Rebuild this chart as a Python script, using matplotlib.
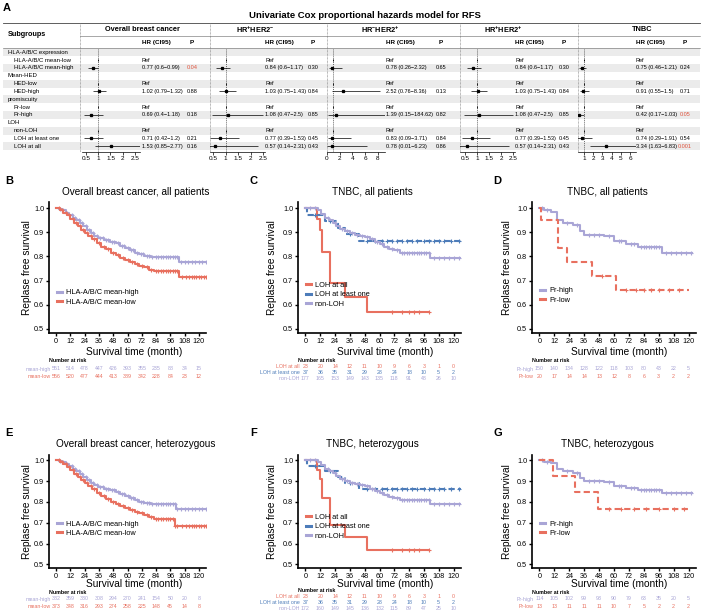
import matplotlib
matplotlib.use("Agg")
import matplotlib.pyplot as plt
import numpy as np
from matplotlib.lines import Line2D
from matplotlib.patches import Rectangle
from matplotlib.transforms import blended_transform_factory

plt.rcParams['font.family'] = ['Liberation Sans', 'DejaVu Sans']
plt.rcParams['mathtext.fontset'] = 'custom'
plt.rcParams['mathtext.rm'] = 'Liberation Sans'
plt.rcParams['mathtext.it'] = 'Liberation Sans:italic'
plt.rcParams['mathtext.bf'] = 'Liberation Sans:bold'

W, H = 701, 611
PURPLE = "#a9a5d6"
RED = "#e8705f"
BLUE = "#4d7cb9"
PRED = "#e0523c"

# ---------------- panel A: forest table data ----------------
SUBGROUPS = ["HLA-A/B/C expression", "HLA-A/B/C mean-low", "HLA-A/B/C mean-high",
             "Mean-HED", "HED-low", "HED-high",
             "promiscuity", "Pr-low", "Pr-high",
             "LOH", "non-LOH", "LOH at least one", "LOH at all"]
HEADER_ROWS = [0, 3, 6, 9]
REF_ROWS = [1, 4, 7, 10]
EST_ROWS = [2, 5, 8, 11, 12]

COHORTS = ["Overall breast cancer",
           r"HR$^{\mathbf{+}}$HER2$^{\mathbf{-}}$",
           r"HR$^{\mathbf{-}}$HER2$^{\mathbf{+}}$",
           r"HR$^{\mathbf{+}}$HER2$^{\mathbf{+}}$",
           "TNBC"]

HR_OVERALL = [0.77, 1.02, 0.69, 0.71, 1.53]
LO_OVERALL = [0.6, 0.79, 0.4, 0.42, 0.85]
HI_OVERALL = [0.99, 1.32, 1.18, 1.2, 2.77]
P_OVERALL = ["0.04", "0.88", "0.18", "0.21", "0.16"]

HR_HRP_HER2N = [0.84, 1.03, 1.08, 0.77, 0.57]
LO_HRP_HER2N = [0.6, 0.75, 0.47, 0.39, 0.14]
HI_HRP_HER2N = [1.17, 1.43, 2.5, 1.53, 2.31]
P_HRP_HER2N = ["0.30", "0.84", "0.85", "0.45", "0.43"]

HR_HRN_HER2P = [0.78, 2.52, 1.39, 0.83, 0.78]
LO_HRN_HER2P = [0.26, 0.76, 0.15, 0.09, 0.01]
HI_HRN_HER2P = [2.32, 8.36, 184.62, 3.71, 6.23]
P_HRN_HER2P = ["0.65", "0.13", "0.82", "0.84", "0.86"]

HR_HRP_HER2P = [0.84, 1.03, 1.08, 0.77, 0.57]
LO_HRP_HER2P = [0.6, 0.75, 0.47, 0.39, 0.14]
HI_HRP_HER2P = [1.17, 1.43, 2.5, 1.53, 2.31]
P_HRP_HER2P = ["0.30", "0.84", "0.85", "0.45", "0.43"]

HR_TNBC = [0.75, 0.91, 0.42, 0.74, 3.34]
LO_TNBC = [0.46, 0.55, 0.17, 0.29, 1.63]
HI_TNBC = [1.21, 1.5, 1.03, 1.91, 6.83]
P_TNBC = ["0.24", "0.71", "0.05", "0.54", "0.001"]

FOREST = [
    (HR_OVERALL, LO_OVERALL, HI_OVERALL, P_OVERALL),
    (HR_HRP_HER2N, LO_HRP_HER2N, HI_HRP_HER2N, P_HRP_HER2N),
    (HR_HRN_HER2P, LO_HRN_HER2P, HI_HRN_HER2P, P_HRN_HER2P),
    (HR_HRP_HER2P, LO_HRP_HER2P, HI_HRP_HER2P, P_HRP_HER2P),
    (HR_TNBC, LO_TNBC, HI_TNBC, P_TNBC),
]
REF_HR = 1.0

# layout of the forest columns (pixels)
FOREST_LAYOUT = [
    dict(left=82, right=140, xlim=(0.337, 2.704), ticks=[0.5, 1, 1.5, 2, 2.5], hr_x=141.5, p_x=192, center=142),
    dict(left=210, right=265, xlim=(0.38, 2.58), ticks=[0.5, 1, 1.5, 2, 2.5], hr_x=265, p_x=313, center=255),
    dict(left=327, right=385, xlim=(0.0, 9.1), ticks=[0, 2, 4, 6, 8], hr_x=386, p_x=441, center=380),
    dict(left=460, right=515, xlim=(0.29, 2.58), ticks=[0.5, 1, 1.5, 2, 2.5], hr_x=515, p_x=564, center=503),
    dict(left=578, right=636, xlim=(0.35, 6.65), ticks=[1, 2, 3, 4, 5, 6], hr_x=635.5, p_x=685, center=642),
]
SEP_X = [80, 210, 327, 460, 578]

# ---------------- KM data (time in months, survival) ----------------
TICK_MONTHS = [0, 12, 24, 36, 48, 60, 72, 84, 96, 108, 120]

# B: overall, all patients
B_HIGH_T = [0, 2, 5, 8, 11, 14, 17, 20, 23, 26, 29, 32, 35, 40, 45, 50, 54, 58, 62, 66, 70, 74, 80, 103]
B_HIGH_S = [1.0, .995, .99, .98, .97, .96, .95, .94, .925, .91, .895, .885, .875, .868, .86, .855,
            .845, .835, .825, .815, .808, .80, .798, .776]
B_HIGH_C = [3, 6, 9, 13, 16, 19, 22, 25, 28, 31, 34, 37, 39, 42, 44, 47, 49, 52, 55, 57, 60, 63, 65, 68,
            71, 73, 76, 78, 81, 84, 86, 88, 90, 92, 94, 96, 98, 100, 102, 105, 108, 111, 114, 117, 120, 123, 126]
B_LOW_T = [0, 3, 6, 9, 12, 15, 18, 21, 24, 27, 30, 34, 38, 42, 46, 50, 54, 58, 62, 66, 70, 74, 78, 82, 103]
B_LOW_S = [1.0, .99, .98, .97, .955, .94, .925, .91, .895, .885, .87, .855, .84, .83, .815, .805,
           .795, .785, .778, .77, .762, .755, .745, .738, .715]
B_LOW_C = [2, 5, 8, 11, 14, 17, 20, 23, 26, 29, 32, 36, 40, 44, 48, 52, 56, 60, 64, 68, 72, 76, 80,
           84, 86, 88, 90, 92, 94, 96, 98, 100, 102, 106, 109, 112, 114, 116, 118, 120, 122, 124, 126]

# C: TNBC, all patients
C_ALL_T = [0, 9.5, 11.5, 13.5, 20, 32, 50]
C_ALL_S = [1.0, .955, .91, .82, .69, .63, .57]
C_ALL_C = [70, 78, 84, 88, 92, 100]
C_ONE_T = [0, 1, 16, 26, 32, 43]
C_ONE_S = [1.0, .973, .946, .919, .892, .864]
C_ONE_C = [8, 20, 36, 50, 56, 62, 66, 70, 74, 78, 82, 86, 90, 96, 100, 104, 108, 112, 118, 124]
C_NON_T = [0, 10, 13, 16, 19, 22, 25, 28, 32, 36, 40, 44, 48, 52, 56, 60, 64, 68, 72, 77, 101]
C_NON_S = [1.0, .99, .975, .96, .95, .94, .925, .915, .905, .895, .89, .885, .88, .87, .86, .85,
           .84, .83, .825, .815, .795]
C_NON_C = [4, 8, 18, 24, 30, 34, 38, 42, 46, 50, 54, 58, 62, 66, 70, 74, 78, 80, 82, 84, 86, 88, 90,
           92, 94, 96, 98, 100, 104, 108, 112, 116, 120, 124]

# D: TNBC, all patients (promiscuity)
D_HIGH_T = [0, 4, 9, 14, 19, 27, 33, 36, 52, 60, 70, 79, 99]
D_HIGH_S = [1.0, .993, .985, .95, .94, .93, .905, .89, .885, .862, .85, .84, .815]
D_HIGH_C = [2, 6, 22, 30, 40, 44, 48, 56, 64, 66, 74, 76, 82, 84, 86, 88, 90, 92, 94, 96, 102, 106,
            110, 114, 118, 122]
D_LOW_T = [0, 1, 15, 22, 42, 62]
D_LOW_S = [1.0, .95, .835, .776, .72, .66]
D_LOW_C = [50, 70, 78, 84, 90, 96, 104, 112]

# E: overall, heterozygous
E_HIGH_T = [0, 2, 5, 8, 11, 14, 17, 20, 23, 26, 29, 32, 35, 40, 45, 50, 54, 58, 62, 66, 70, 74, 80, 101]
E_HIGH_S = [1.0, .995, .99, .98, .97, .96, .948, .935, .92, .905, .89, .88, .87, .862, .855, .848,
            .84, .83, .82, .81, .80, .795, .79, .765]
E_HIGH_C = B_HIGH_C
E_LOW_T = [0, 3, 6, 9, 12, 15, 18, 21, 24, 27, 30, 34, 38, 42, 46, 50, 54, 58, 62, 66, 70, 74, 78, 82, 100]
E_LOW_S = [1.0, .99, .98, .968, .952, .935, .92, .905, .89, .875, .86, .845, .83, .815, .80, .79,
           .78, .77, .76, .752, .745, .737, .728, .72, .685]
E_LOW_C = B_LOW_C

# F: TNBC, heterozygous
F_ALL_T = C_ALL_T
F_ALL_S = C_ALL_S
F_ALL_C = C_ALL_C
F_ONE_T = C_ONE_T
F_ONE_S = C_ONE_S
F_ONE_C = C_ONE_C
F_NON_T = [0, 10, 13, 16, 19, 22, 25, 28, 32, 36, 40, 44, 48, 52, 56, 60, 64, 68, 72, 77, 101]
F_NON_S = [1.0, .99, .975, .96, .948, .937, .922, .912, .902, .892, .886, .88, .874, .864, .854, .844,
           .834, .824, .818, .81, .79]
F_NON_C = C_NON_C

# G: TNBC, heterozygous (promiscuity)
G_HIGH_T = [0, 4, 9, 14, 19, 27, 33, 36, 52, 60, 70, 79, 99]
G_HIGH_S = [1.0, .993, .985, .96, .95, .94, .915, .9, .895, .875, .865, .855, .845]
G_HIGH_C = D_HIGH_C
G_LOW_T = [0, 11, 29, 47]
G_LOW_S = [1.0, .923, .846, .765]
G_LOW_C = [56, 66, 76, 86, 96, 108, 116]

# number at risk
B_RISK_LABELS = ["mean-high", "mean-low"]
B_RISK = [[551, 514, 478, 447, 426, 393, 355, 235, 88, 34, 15],
          [556, 520, 477, 444, 413, 389, 342, 228, 84, 23, 12]]
C_RISK_LABELS = ["LOH at all", "LOH at least one", "non-LOH"]
C_RISK = [[23, 20, 14, 12, 11, 10, 9, 6, 3, 1, 0],
          [37, 36, 35, 31, 29, 28, 24, 18, 10, 5, 2],
          [177, 165, 153, 149, 143, 135, 118, 91, 48, 26, 10]]
D_RISK_LABELS = ["Pr-high", "Pr-low"]
D_RISK = [[150, 140, 134, 128, 122, 118, 103, 80, 43, 22, 5],
          [20, 17, 14, 14, 13, 12, 8, 6, 3, 2, 2]]
E_RISK = [[382, 359, 330, 308, 294, 270, 241, 154, 50, 20, 8],
          [373, 348, 316, 293, 274, 258, 225, 148, 45, 14, 8]]
F_RISK = [[23, 20, 14, 12, 11, 10, 9, 6, 3, 1, 0],
          [37, 36, 35, 31, 29, 28, 24, 18, 10, 5, 2],
          [172, 160, 149, 145, 136, 132, 115, 89, 47, 25, 10]]
G_RISK = [[114, 105, 102, 99, 93, 90, 79, 63, 35, 20, 5],
          [13, 13, 11, 11, 11, 10, 7, 5, 2, 2, 2]]


def px_rect(left, top, right, bottom):
    return [left / W, 1 - bottom / H, (right - left) / W, (bottom - top) / H]


fig = plt.figure(figsize=(W / 100, H / 100), dpi=100)
tab = fig.add_axes([0, 0, 1, 1])
tab.set_xlim(0, W)
tab.set_ylim(H, 0)
tab.axis("off")

# ---------------- panel A ----------------
tab.text(3, 8, "A", fontsize=8, fontweight="bold", va="center")
tab.text(365, 15, "Univariate Cox proportional hazards model for RFS",
         fontsize=6.8, fontweight="bold", ha="center", va="center")

ROW_Y0, ROW_DY = 52.3, 7.83
for i, lab in enumerate(SUBGROUPS):
    y = ROW_Y0 + ROW_DY * i
    if i % 2 == 0:
        tab.add_patch(Rectangle((3, y - ROW_DY / 2), 697, ROW_DY, color="#ebebeb", lw=0, zorder=0))
    x = 8 if i in HEADER_ROWS else 14
    tab.text(x, y, lab, fontsize=4.3, va="center")

tab.plot([3, 700], [23, 23], color="#444444", lw=0.6)
tab.plot([80, 700], [36, 36], color="#666666", lw=0.4)
tab.plot([3, 700], [48, 48], color="#666666", lw=0.4)
tab.vlines(SEP_X, 23, 152, colors="#777777", lw=0.5, linestyles=(0, (1, 1)))
tab.text(8, 34, "Subgroups", fontsize=5.2, fontweight="bold", va="center")

for k, (name, lay) in enumerate(zip(COHORTS, FOREST_LAYOUT)):
    hr, lo, hi, pv = FOREST[k]
    tab.text(lay["center"], 29.5, name, fontsize=5.3, fontweight="bold", ha="center", va="center")
    tab.text(lay["hr_x"], 42.5, "HR (CI95)", fontsize=4.6, fontweight="bold", va="center")
    tab.text(lay["p_x"], 42.5, "P", fontsize=4.6, fontweight="bold", ha="center", va="center")

    fax = fig.add_axes(px_rect(lay["left"], 49, lay["right"], 151.7))
    fax.patch.set_alpha(0)
    fax.set_xlim(*lay["xlim"])
    fax.set_ylim(12.69, -0.42)
    fax.axvline(REF_HR, color="#333333", lw=0.5, ls=(0, (1.5, 1.5)))
    fax.hlines(EST_ROWS, lo, hi, color="black", lw=0.5)
    fax.plot(hr, EST_ROWS, "s", ms=1.4, color="black")
    fax.plot([REF_HR] * len(REF_ROWS), REF_ROWS, "|", ms=2, mew=0.6, color="black")
    fax.set_xticks(lay["ticks"])
    fax.set_xticklabels([f"{t:g}" for t in lay["ticks"]])
    fax.tick_params(axis="x", length=2, width=0.5, labelsize=4.6, pad=1)
    fax.set_yticks([])
    for s in ["left", "top", "right"]:
        fax.spines[s].set_visible(False)
    fax.spines["bottom"].set_linewidth(0.5)

    for r in REF_ROWS:
        tab.text(lay["hr_x"], ROW_Y0 + ROW_DY * r, "Ref", fontsize=4.0, va="center")
    for j, r in enumerate(EST_ROWS):
        y = ROW_Y0 + ROW_DY * r
        tab.text(lay["hr_x"], y, f"{hr[j]:g} ({lo[j]:g}\u2212{hi[j]:g})", fontsize=4.0, va="center")
        col = PRED if float(pv[j]) <= 0.05 else "black"
        tab.text(lay["p_x"], y, pv[j], fontsize=4.0, va="center", ha="center", color=col)


# ---------------- KM panels ----------------
def surv_at(times, surv, t):
    idx = np.searchsorted(times, t, side="right") - 1
    return np.asarray(surv)[idx]


def km_panel(box, letter, title, curves, pval, risk_labels, risk, risk_y, risk_head_y,
             legend_top, logrank_y, txt):
    left, top, right, bottom = box
    ax = fig.add_axes(px_rect(left, top, right, bottom))
    ax.set_xlim(-6, 126)
    ax.set_ylim(0.483, 1.025)
    handles = []
    for times, surv, cens, end, color, ls, lab in curves:
        tt = list(times) + [end]
        ss = list(surv) + [surv[-1]]
        ax.step(tt, ss, where="post", color=color, lw=1.5, ls=ls)
        ax.plot(cens, surv_at(times, surv, cens), "+", color=color, ms=3, mew=0.8)
        handles.append(Line2D([0], [0], color=color, lw=2.2, ls="-", label=lab))
    ax.legend(handles=handles, loc="upper left",
              bbox_to_anchor=(legend_top[0], legend_top[1]), frameon=False,
              fontsize=5.3, handlelength=0.7, handletextpad=0.5, labelspacing=0.3,
              borderpad=0, borderaxespad=0)
    ax.set_xticks(TICK_MONTHS)
    ax.set_yticks([0.5, 0.6, 0.7, 0.8, 0.9, 1.0])
    ax.set_yticklabels(["0.5", "0.6", "0.7", "0.8", "0.9", "1.0"])
    ax.tick_params(labelsize=5.2, length=2, width=1, pad=1.5)
    for s in ["top", "right"]:
        ax.spines[s].set_visible(False)
    for s in ["left", "bottom"]:
        ax.spines[s].set_linewidth(1.2)

    lx, tx, ty, xlx, xly, ylx = txt
    tab.text(lx, ty - 11, letter, fontsize=8, fontweight="bold", va="center")
    tab.text(tx, ty, title, fontsize=7.2, ha="center", va="center")
    tab.text((left + right) / 2 + xlx, xly, "Survival time (month)", fontsize=7.3, ha="center", va="center")
    tab.text(ylx, (top + bottom) / 2, "Replase free survival", fontsize=7.3, rotation=90,
             ha="center", va="center")
    tab.text(left + 8, logrank_y, "Log-rank", fontsize=5.3, va="center")
    tab.text(left + 8, logrank_y + 9, r"$P$ = " + pval, fontsize=5.3, va="center")

    tr = blended_transform_factory(ax.transData, fig.transFigure)
    tab.text(left, risk_head_y, "Number at risk", fontsize=3.8, fontweight="bold", va="center")
    colors = [c[4] for c in curves]
    for lab, row, y, color in zip(risk_labels, risk, risk_y, colors):
        fy = 1 - y / H
        ax.text(-4.5, fy, lab, transform=tr, fontsize=3.8, color=color, ha="right", va="center")
        for t, n in zip(TICK_MONTHS, row):
            ax.text(t, fy, str(n), transform=tr, fontsize=3.8, color=color, ha="center", va="center")
    return ax


DASH = (0, (3, 1.6))

km_panel((49, 202, 206, 333), "B", "Overall breast cancer, all patients",
         [(B_HIGH_T, B_HIGH_S, B_HIGH_C, 127, PURPLE, "-", "HLA-A/B/C mean-high"),
          (B_LOW_T, B_LOW_S, B_LOW_C, 127, RED, "-", "HLA-A/B/C mean-low")],
         "0.04", B_RISK_LABELS, [B_RISK[0], B_RISK[1]], [369, 377], 361,
         (0.05, 0.335), 315, (5, 136, 192, 7, 352, 27))
km_panel((298, 202, 461, 333), "C", "TNBC, all patients",
         [(C_ALL_T, C_ALL_S, C_ALL_C, 100, RED, "-", "LOH at all"),
          (C_ONE_T, C_ONE_S, C_ONE_C, 126, BLUE, DASH, "LOH at least one"),
          (C_NON_T, C_NON_S, C_NON_C, 126, PURPLE, "-", "non-LOH")],
         "0.00086", C_RISK_LABELS, C_RISK, [366, 372, 378], 361,
         (0.05, 0.39), 315, (250, 372, 192, 6, 352, 272))
km_panel((532, 202, 696, 333), "D", "TNBC, all patients",
         [(D_HIGH_T, D_HIGH_S, D_HIGH_C, 123, PURPLE, "-", "Pr-high"),
          (D_LOW_T, D_LOW_S, D_LOW_C, 120, RED, DASH, "Pr-low")],
         "0.049", D_RISK_LABELS, D_RISK, [369, 377], 361,
         (0.05, 0.35), 316, (493, 607, 192, 5, 352, 507))

km_panel((49, 455, 206, 568), "E", "Overall breast cancer, heterozygous",
         [(E_HIGH_T, E_HIGH_S, E_HIGH_C, 127, PURPLE, "-", "HLA-A/B/C mean-high"),
          (E_LOW_T, E_LOW_S, E_LOW_C, 127, RED, "-", "HLA-A/B/C mean-low")],
         "0.043", B_RISK_LABELS, E_RISK, [599, 606], 592,
         (0.05, 0.42), 546, (5, 136, 444, 7, 584, 27))
km_panel((298, 455, 461, 568), "F", "TNBC, heterozygous",
         [(F_ALL_T, F_ALL_S, F_ALL_C, 100, RED, "-", "LOH at all"),
          (F_ONE_T, F_ONE_S, F_ONE_C, 126, BLUE, DASH, "LOH at least one"),
          (F_NON_T, F_NON_S, F_NON_C, 126, PURPLE, "-", "non-LOH")],
         "0.00078", C_RISK_LABELS, F_RISK, [596, 602, 608], 591,
         (0.05, 0.48), 546, (250, 372, 444, 6, 584, 272))
km_panel((532, 455, 696, 568), "G", "TNBC, heterozygous",
         [(G_HIGH_T, G_HIGH_S, G_HIGH_C, 123, PURPLE, "-", "Pr-high"),
          (G_LOW_T, G_LOW_S, G_LOW_C, 120, RED, DASH, "Pr-low")],
         "0.049", D_RISK_LABELS, G_RISK, [599, 606], 592,
         (0.05, 0.42), 546, (493, 607, 444, 5, 584, 507))

fig.savefig("out.png", dpi=100)
